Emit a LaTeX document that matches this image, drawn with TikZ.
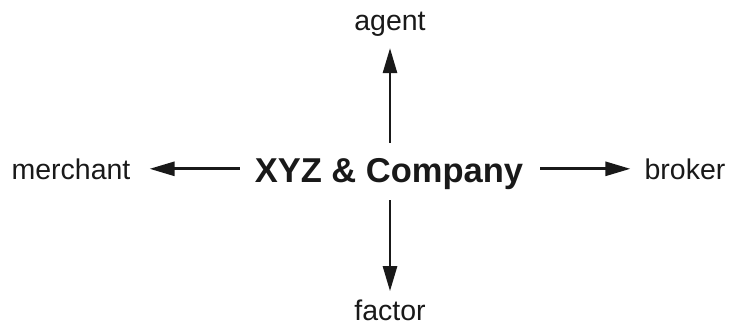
\documentclass[tikz,border=0pt]{standalone}
\usepackage{fontspec}
\setmainfont{Liberation Sans}
\usetikzlibrary{arrows.meta}
\begin{document}
\begin{tikzpicture}[x=1pt,y=1pt,
  lbl/.style={inner sep=0pt, font=\fontsize{28.5}{30}\selectfont, text=black!90},
  hub/.style={inner sep=0pt, font=\fontsize{34.5}{36}\selectfont\bfseries, text=black!90},
  arr/.style={line width=2.7pt, draw=black!90, -{Triangle[length=25pt,width=14pt]}}]
\useasboundingbox (0,0) rectangle (731,333);
\node[hub, anchor=base] (xyz) at (389,151) {XYZ \& Company};
\node[lbl, anchor=base] (agent) at (390,303) {agent};
\node[lbl, anchor=base] (factor) at (390,13) {factor};
\node[lbl, anchor=base] (merchant) at (71,154) {merchant};
\node[lbl, anchor=base] (broker) at (685,154) {broker};
\draw[arr, shorten <=15pt, shorten >=12pt] (xyz.north -| agent.south) -- (agent.south);
\draw[arr, shorten <=11pt, shorten >=8pt] (xyz.south -| factor.north) -- (factor.north);
\draw[arr, shorten <=15pt, shorten >=19pt] (xyz.west |- merchant.east) -- (merchant.east);
\draw[arr, shorten <=17pt, shorten >=14pt] (xyz.east |- broker.west) -- (broker.west);
\end{tikzpicture}
\end{document}
